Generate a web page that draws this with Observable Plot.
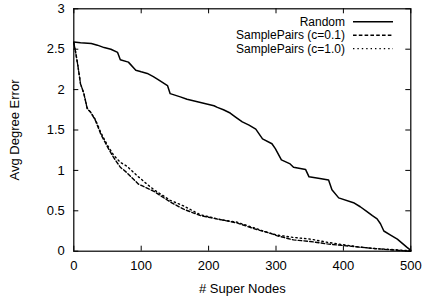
<!DOCTYPE html>
<html>
<head>
<meta charset="utf-8">
<script src="https://cdn.jsdelivr.net/npm/d3@7"></script>
<script src="https://cdn.jsdelivr.net/npm/@observablehq/plot@0.6"></script>
<style>
  html, body { margin: 0; padding: 0; background: white; }
  #chart svg { display: block; }
</style>
</head>
<body>
<div id="chart"></div>
<script>
// ---- Data ----
const seriesNames = ["Random", "SamplePairs (c=0.1)", "SamplePairs (c=1.0)"];

const randomX = [0, 10, 26, 35, 45, 55, 65, 69, 81, 92, 100, 109, 118, 124, 139, 143, 158, 168, 188, 208, 213, 222, 232, 240, 250, 260, 270, 280, 294, 299, 308, 321, 326, 344, 349, 365, 378, 383, 393, 415, 425, 435, 443, 450, 455, 460, 470, 480, 494, 500];
const randomY = [2.59, 2.58, 2.57, 2.55, 2.52, 2.50, 2.46, 2.37, 2.34, 2.24, 2.22, 2.20, 2.16, 2.13, 2.05, 1.95, 1.91, 1.88, 1.84, 1.80, 1.78, 1.75, 1.71, 1.66, 1.60, 1.56, 1.51, 1.39, 1.33, 1.27, 1.13, 1.08, 1.04, 1.01, 0.92, 0.90, 0.88, 0.76, 0.66, 0.60, 0.55, 0.49, 0.44, 0.40, 0.34, 0.25, 0.20, 0.15, 0.05, 0.01];

const sp01X = [0, 3, 6, 10, 15, 20, 25, 32, 40, 50, 59, 69, 79, 96, 119, 143, 163, 188, 218, 242, 267, 292, 302, 326, 351, 376, 400, 425, 450, 474, 500];
const sp01Y = [2.58, 2.45, 2.30, 2.07, 1.95, 1.76, 1.72, 1.62, 1.45, 1.29, 1.16, 1.04, 0.97, 0.83, 0.74, 0.61, 0.52, 0.44, 0.39, 0.35, 0.28, 0.22, 0.19, 0.14, 0.12, 0.09, 0.07, 0.05, 0.03, 0.015, 0.0];

const sp10X = [0, 3, 6, 10, 15, 20, 25, 32, 40, 50, 59, 69, 79, 96, 110, 119, 143, 163, 188, 218, 242, 267, 292, 302, 326, 351, 376, 400, 425, 450, 474, 500];
const sp10Y = [2.58, 2.45, 2.30, 2.07, 1.95, 1.77, 1.72, 1.63, 1.47, 1.31, 1.19, 1.10, 1.05, 0.92, 0.82, 0.76, 0.63, 0.56, 0.45, 0.39, 0.36, 0.29, 0.22, 0.20, 0.17, 0.15, 0.11, 0.08, 0.05, 0.03, 0.02, 0.005];

const xTicks = [0, 100, 200, 300, 400, 500];
const yTicks = [0, 0.5, 1, 1.5, 2, 2.5, 3];
const yTickLabels = ["0", "0.5", "1", "1.5", "2", "2.5", "3"];

// ---- Build tables ----
const toRows = (xs, ys, s) => xs.map((x, i) => ({x, y: ys[i], s}));
const randomRows = toRows(randomX, randomY, seriesNames[0]);
const sp01Rows = toRows(sp01X, sp01Y, seriesNames[1]);
const sp10Rows = toRows(sp10X, sp10Y, seriesNames[2]);

const W = 427, H = 296;
const mL = 73.3, mR = 16.7, mT = 8.3, mB = 45.3;
const fw = W - mL - mR, fh = H - mT - mB;
const tick = 5;
const font = "'Liberation Sans', Arial, Helvetica, sans-serif";

const dashes = [null, "3.6,2.2", "1.4,3"];

const plot = Plot.plot({
  width: W,
  height: H,
  marginLeft: mL, marginRight: mR, marginTop: mT, marginBottom: mB,
  style: {fontFamily: font, fontSize: "13px", background: "white", color: "black", overflow: "visible"},
  x: {domain: [0, 500]},
  y: {domain: [0, 3]},
  marks: [
    Plot.axisX(xTicks, {anchor: "bottom", tickSize: 0, tickPadding: 10, fontSize: 13,
      label: "# Super Nodes", labelAnchor: "center", labelArrow: "none", labelOffset: 42}),
    Plot.axisY(yTicks, {anchor: "left", tickSize: 0, tickPadding: 9, fontSize: 13,
      tickFormat: (d) => yTickLabels[yTicks.indexOf(d)],
      label: "Avg Degree Error", labelAnchor: "center", labelArrow: "none", labelOffset: 64}),
    // inward ticks on all four sides
    Plot.tickX(xTicks, {x: d => d, insetTop: fh - tick, stroke: "black", strokeWidth: 1}),
    Plot.tickX(xTicks, {x: d => d, insetBottom: fh - tick, stroke: "black", strokeWidth: 1}),
    Plot.tickY(yTicks, {y: d => d, insetRight: fw - tick, stroke: "black", strokeWidth: 1}),
    Plot.tickY(yTicks, {y: d => d, insetLeft: fw - tick, stroke: "black", strokeWidth: 1}),
    Plot.line(randomRows, {x: "x", y: "y", stroke: "black", strokeWidth: 1.5}),
    Plot.line(sp01Rows, {x: "x", y: "y", stroke: "black", strokeWidth: 1.4, strokeDasharray: dashes[1]}),
    Plot.line(sp10Rows, {x: "x", y: "y", stroke: "black", strokeWidth: 1.4, strokeDasharray: dashes[2]}),
    Plot.frame({stroke: "black", strokeWidth: 1.2})
  ]
});

// ---- Legend (inside plot, top right) ----
const svg = d3.select(plot);
const lg = svg.append("g").attr("font-family", font).attr("font-size", 12);
const textRight = 345, lineX1 = 353, lineX2 = 393;
const rowBase = 26, rowStep = 13.4;
seriesNames.forEach((name, i) => {
  const yb = rowBase + i * rowStep;
  lg.append("text").attr("x", textRight).attr("y", yb).attr("text-anchor", "end").attr("fill", "black").text(name);
  lg.append("line").attr("x1", lineX1).attr("x2", lineX2).attr("y1", yb - 4.2).attr("y2", yb - 4.2)
    .attr("stroke", "black").attr("stroke-width", 1.4)
    .attr("stroke-dasharray", dashes[i]);
});

document.getElementById("chart").appendChild(plot);
</script>
</body>
</html>
